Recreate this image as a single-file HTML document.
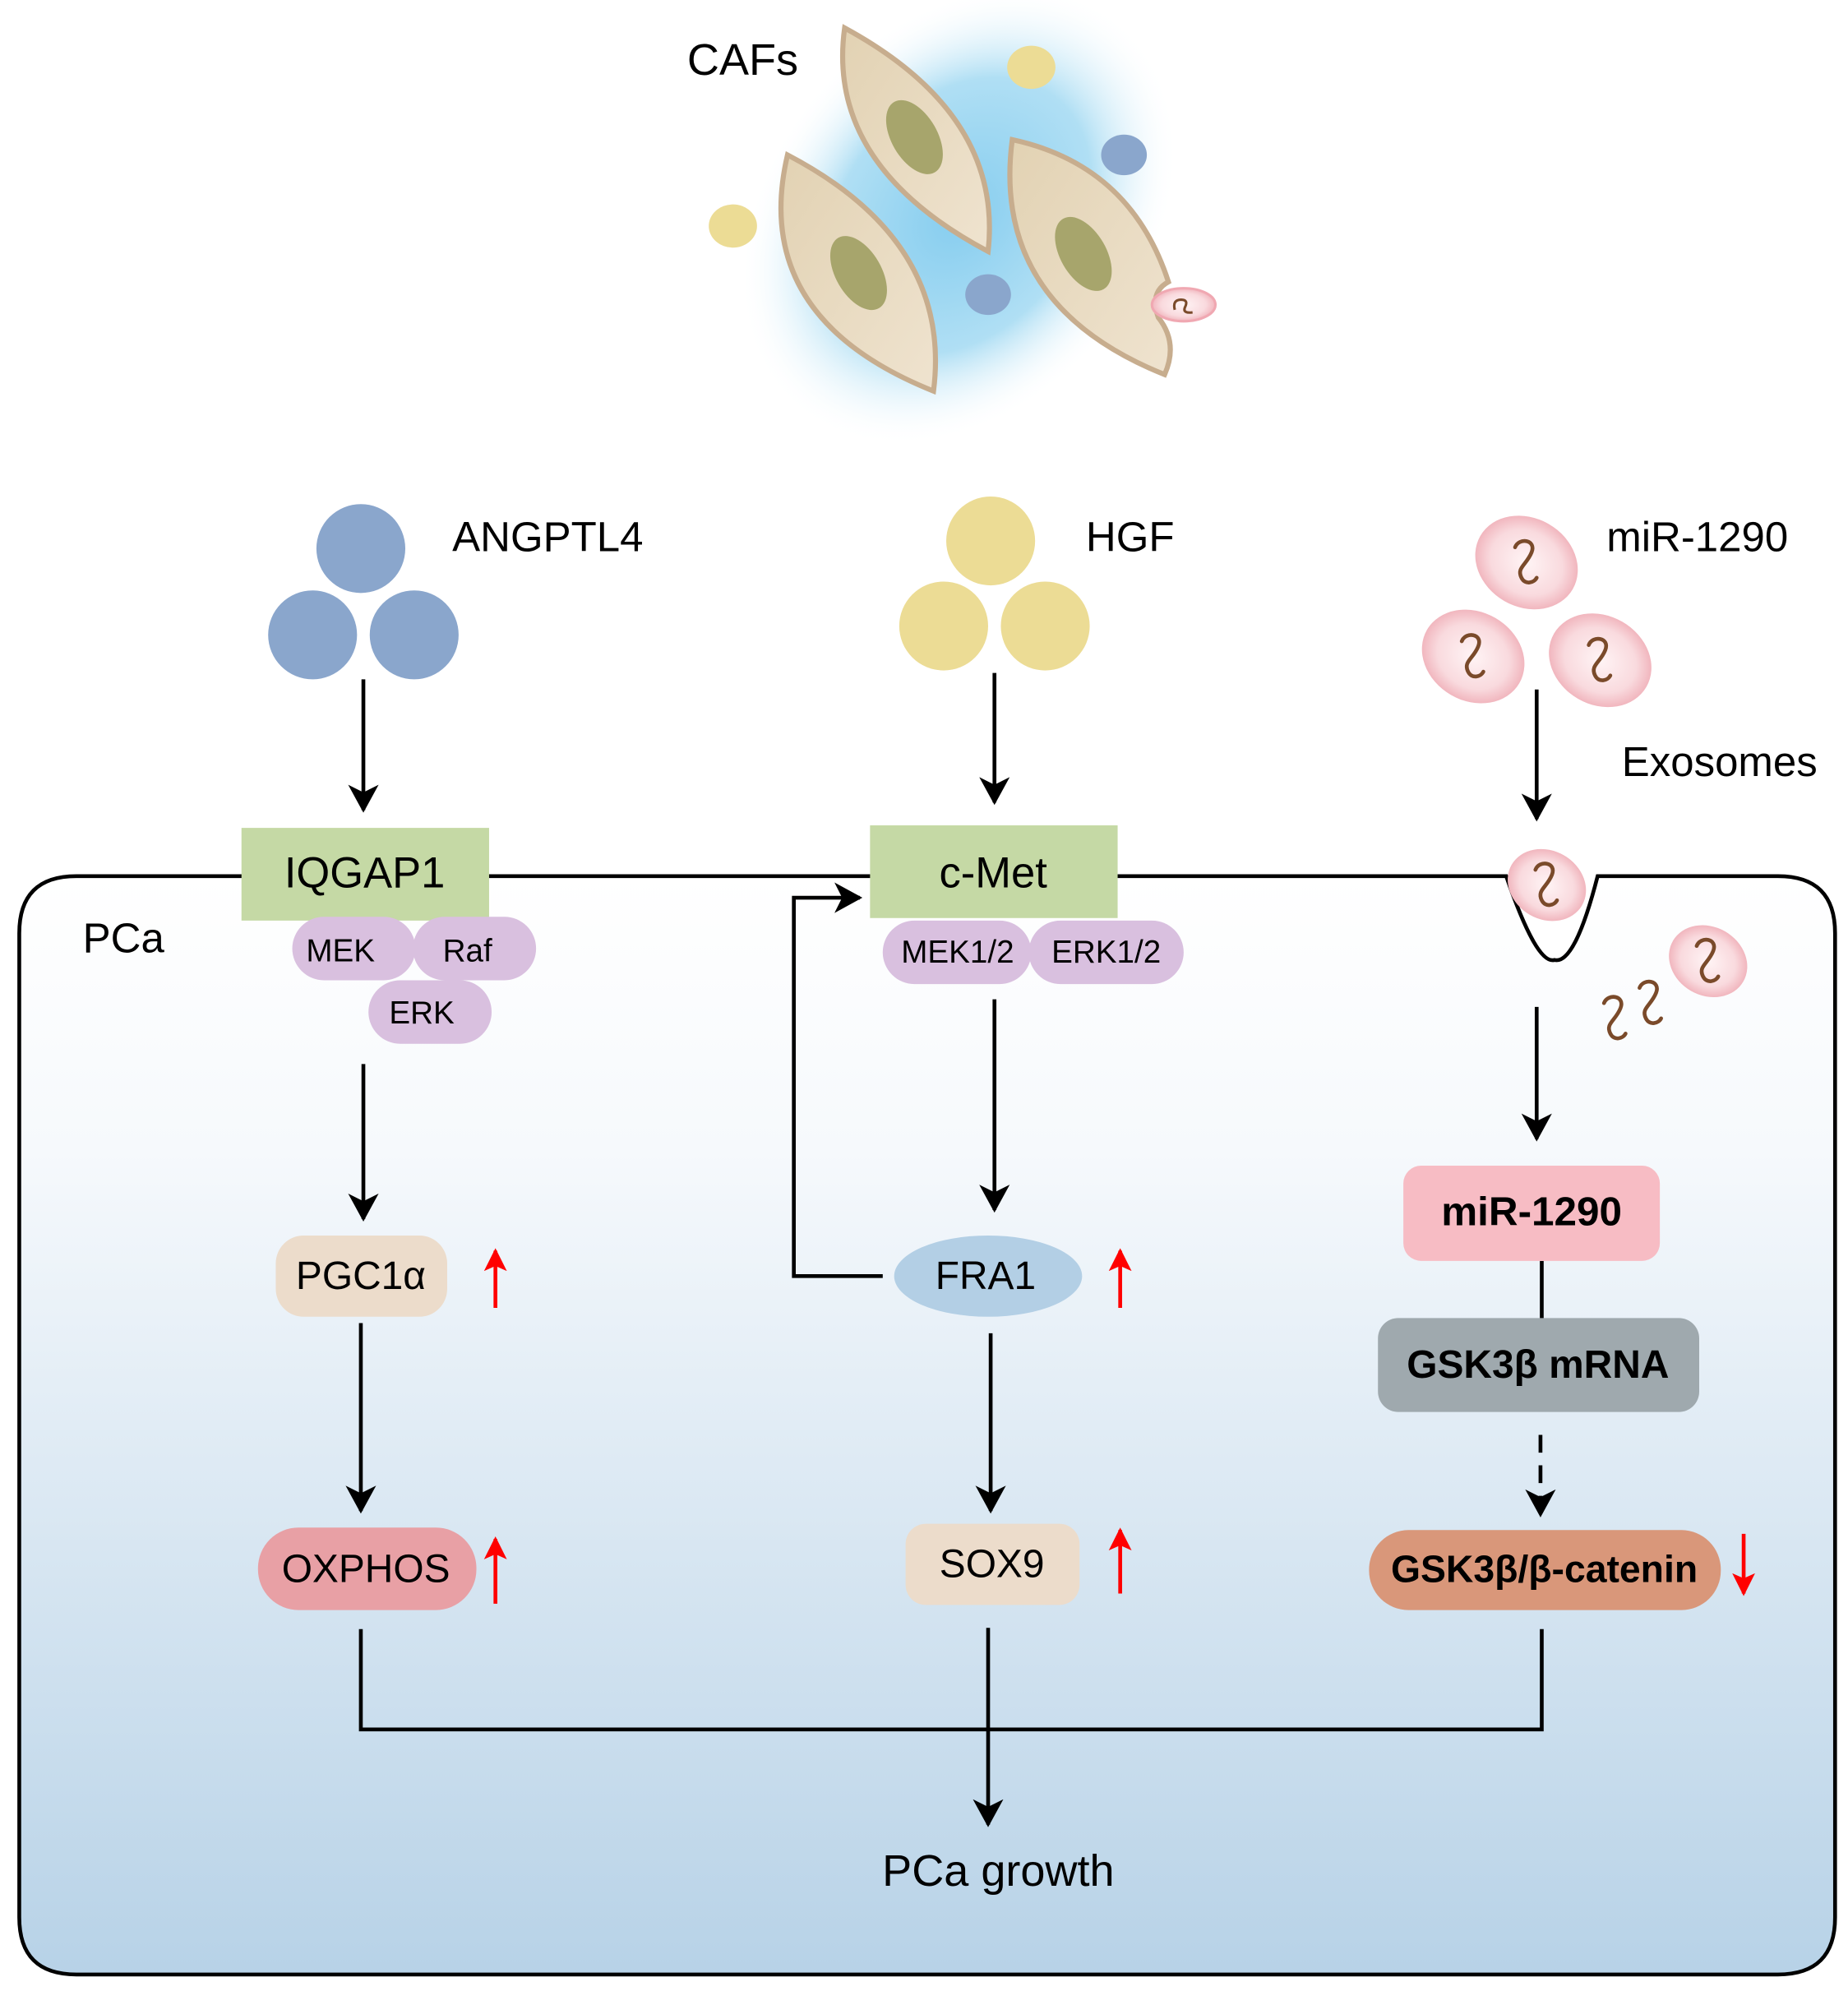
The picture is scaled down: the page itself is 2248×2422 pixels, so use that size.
<!DOCTYPE html>
<html><head><meta charset="utf-8"><style>
html,body{margin:0;padding:0;background:#fff}
svg{display:block}
text{font-family:"Liberation Sans",sans-serif}
</style></head><body>
<svg width="2248" height="2422" viewBox="0 0 1455 1568" xmlns="http://www.w3.org/2000/svg">
<defs>
<linearGradient id="cell" x1="0" y1="0" x2="0" y2="1">
<stop offset="0" stop-color="#ffffff"/><stop offset="0.25" stop-color="#f6f9fc"/><stop offset="1" stop-color="#b7d2e7"/></linearGradient>
<radialGradient id="glow" cx="0.5" cy="0.5" r="0.5">
<stop offset="0" stop-color="#86cdef"/><stop offset="0.6" stop-color="#b0dff4"/><stop offset="1" stop-color="#ffffff" stop-opacity="0"/></radialGradient>
<radialGradient id="ves" cx="0.5" cy="0.5" r="0.5">
<stop offset="0" stop-color="#fff4f5"/><stop offset="0.7" stop-color="#f9dade"/><stop offset="1" stop-color="#f1b6be"/></radialGradient>
<linearGradient id="fib" x1="0" y1="0" x2="1" y2="1"><stop offset="0" stop-color="#e2d2b3"/><stop offset="1" stop-color="#efe3cf"/></linearGradient>
<marker id="ahb" markerWidth="24" markerHeight="26" refX="20" refY="13" orient="auto" markerUnits="userSpaceOnUse">
<path d="M0,1 L22,13 L0,25 L6,13 Z" fill="#000"/></marker>
<marker id="ahr" markerWidth="18" markerHeight="20" refX="16" refY="10" orient="auto" markerUnits="userSpaceOnUse">
<path d="M0,1 L18,10 L0,19 L4,10 Z" fill="#f00"/></marker>
<g id="sq"><path d="M-9,-12 C-6,-20 8,-18 4,-8 C0,2 -8,4 -4,12 C-1,18 6,16 8,12" fill="none" stroke="#7a4a2a" stroke-width="3" stroke-linecap="round"/></g>
</defs>

<!-- CAFs -->
<ellipse cx="755" cy="170" rx="200" ry="150" fill="url(#glow)" transform="rotate(-50 755 170)"/>
<path d="M665,22 Q650,130 778,198 Q790,90 665,22 Z" fill="url(#fib)" stroke="#c7ad8e" stroke-width="4"/>
<ellipse cx="720" cy="108" rx="18" ry="32" fill="#a7a56c" transform="rotate(-30 720 108)"/>
<path d="M620,122 Q590,250 735,308 Q750,190 620,122 Z" fill="url(#fib)" stroke="#c7ad8e" stroke-width="4"/>
<ellipse cx="676" cy="215" rx="18" ry="32" fill="#a7a56c" transform="rotate(-30 676 215)"/>
<path d="M797,110 Q780,240 917,295 Q928,270 912,250 Q905,230 920,222 Q890,130 797,110 Z" fill="url(#fib)" stroke="#c7ad8e" stroke-width="4"/>
<ellipse cx="853" cy="200" rx="18" ry="32" fill="#a7a56c" transform="rotate(-30 853 200)"/>
<ellipse cx="812" cy="53" rx="19" ry="17" fill="#ecdc95"/>
<ellipse cx="577" cy="178" rx="19" ry="17" fill="#ecdc95"/>
<ellipse cx="885" cy="122" rx="18" ry="16" fill="#8aa6cc"/>
<ellipse cx="778" cy="232" rx="18" ry="16" fill="#8aa6cc"/>
<ellipse cx="932" cy="240" rx="25" ry="13" fill="url(#ves)" stroke="#f0a8b2" stroke-width="2"/>
<path d="M925,244 q-2,-8 5,-8 q6,0 3,6 q-2,5 6,4" fill="none" stroke="#7a4a2a" stroke-width="2"/>
<text x="541" y="59" font-size="35">CAFs</text>

<!-- cell -->
<path d="M60,690 L1186,690 Q1210,760 1224,756 Q1240,760 1258,690 L1400,690 Q1445,690 1445,735 L1445,1510 Q1445,1555 1400,1555 L60,1555 Q15,1555 15,1510 L15,735 Q15,690 60,690 Z" fill="url(#cell)" stroke="#000" stroke-width="3"/>
<text x="65" y="750" font-size="33">PCa</text>

<!-- ANGPTL4 -->
<circle cx="284" cy="432" r="35" fill="#8aa6cc"/><circle cx="246" cy="500" r="35" fill="#8aa6cc"/><circle cx="326" cy="500" r="35" fill="#8aa6cc"/>
<text x="356" y="434" font-size="33">ANGPTL4</text>
<!-- HGF -->
<circle cx="780" cy="426" r="35" fill="#ecdc95"/><circle cx="743" cy="493" r="35" fill="#ecdc95"/><circle cx="823" cy="493" r="35" fill="#ecdc95"/>
<text x="855" y="434" font-size="33">HGF</text>
<!-- miR exosomes -->
<ellipse cx="1202" cy="443" rx="42" ry="35" fill="url(#ves)" transform="rotate(30 1202 443)"/><use href="#sq" x="1202" y="443"/>
<ellipse cx="1160" cy="517" rx="42" ry="35" fill="url(#ves)" transform="rotate(30 1160 517)"/><use href="#sq" x="1160" y="517"/>
<ellipse cx="1260" cy="520" rx="42" ry="35" fill="url(#ves)" transform="rotate(30 1260 520)"/><use href="#sq" x="1260" y="520"/>
<text x="1265" y="434" font-size="33">miR-1290</text>
<text x="1277" y="611" font-size="33">Exosomes</text>
<ellipse cx="1218" cy="697" rx="32" ry="27" fill="url(#ves)" transform="rotate(30 1218 697)"/><use href="#sq" x="1218" y="697"/>
<ellipse cx="1345" cy="757" rx="32" ry="27" fill="url(#ves)" transform="rotate(30 1345 757)"/><use href="#sq" x="1345" y="757"/>
<use href="#sq" x="1272" y="802"/><use href="#sq" x="1300" y="790"/>

<!-- arrows -->
<g stroke="#000" stroke-width="3" fill="none">
<line x1="286" y1="535" x2="286" y2="638" marker-end="url(#ahb)"/>
<line x1="783" y1="530" x2="783" y2="632" marker-end="url(#ahb)"/>
<line x1="1210" y1="543" x2="1210" y2="645" marker-end="url(#ahb)"/>
<line x1="286" y1="838" x2="286" y2="960" marker-end="url(#ahb)"/>
<line x1="783" y1="787" x2="783" y2="953" marker-end="url(#ahb)"/>
<line x1="1210" y1="793" x2="1210" y2="897" marker-end="url(#ahb)"/>
<line x1="284" y1="1042" x2="284" y2="1190" marker-end="url(#ahb)"/>
<line x1="780" y1="1050" x2="780" y2="1190" marker-end="url(#ahb)"/>
<line x1="1213" y1="1130" x2="1213" y2="1193" stroke-dasharray="14,10" marker-end="url(#ahb)"/>
<line x1="778" y1="1282" x2="778" y2="1437" marker-end="url(#ahb)"/>
<line x1="1214" y1="993" x2="1214" y2="1040"/>
<polyline points="695,1005 625,1005 625,707 677,707" marker-end="url(#ahb)"/>
<polyline points="284,1283 284,1362 1214,1362 1214,1283"/>
</g>
<g stroke="#f00" stroke-width="3">
<line x1="390" y1="1030" x2="390" y2="985" marker-end="url(#ahr)"/>
<line x1="390" y1="1263" x2="390" y2="1212" marker-end="url(#ahr)"/>
<line x1="882" y1="1030" x2="882" y2="985" marker-end="url(#ahr)"/>
<line x1="882" y1="1255" x2="882" y2="1205" marker-end="url(#ahr)"/>
<line x1="1373" y1="1208" x2="1373" y2="1255" marker-end="url(#ahr)"/>
</g>

<!-- receptors -->
<rect x="190" y="652" width="195" height="73" fill="#c5d9a5"/>
<text x="287" y="699" font-size="34" text-anchor="middle">IQGAP1</text>
<rect x="685" y="650" width="195" height="73" fill="#c5d9a5"/>
<text x="782" y="699" font-size="34" text-anchor="middle">c-Met</text>
<rect x="230" y="722" width="97" height="50" rx="25" fill="#d9c0df"/>
<rect x="325" y="722" width="97" height="50" rx="25" fill="#d9c0df"/>
<rect x="290" y="772" width="97" height="50" rx="25" fill="#d9c0df"/>
<text x="268" y="757" font-size="25" text-anchor="middle">MEK</text>
<text x="368" y="757" font-size="25" text-anchor="middle">Raf</text>
<text x="332" y="806" font-size="25" text-anchor="middle">ERK</text>
<rect x="695" y="725" width="117" height="50" rx="25" fill="#d9c0df"/>
<rect x="810" y="725" width="122" height="50" rx="25" fill="#d9c0df"/>
<text x="754" y="758" font-size="25" text-anchor="middle">MEK1/2</text>
<text x="871" y="758" font-size="25" text-anchor="middle">ERK1/2</text>

<!-- nodes -->
<rect x="217" y="973" width="135" height="64" rx="22" fill="#ecdccb"/>
<text x="284" y="1015" font-size="31" text-anchor="middle">PGC1α</text>
<ellipse cx="778" cy="1005" rx="74" ry="32" fill="#b3cfe5"/>
<text x="776" y="1015" font-size="31" text-anchor="middle">FRA1</text>
<rect x="203" y="1203" width="172" height="65" rx="32" fill="#e8a0a5"/>
<text x="288" y="1246" font-size="31" text-anchor="middle">OXPHOS</text>
<rect x="713" y="1200" width="137" height="64" rx="16" fill="#ecdccb"/>
<text x="781" y="1242" font-size="31" text-anchor="middle">SOX9</text>
<rect x="1105" y="918" width="202" height="75" rx="14" fill="#f7bcc4"/>
<text x="1206" y="965" font-size="32" font-weight="bold" text-anchor="middle">miR-1290</text>
<rect x="1085" y="1038" width="253" height="74" rx="16" fill="#9fa9ae"/>
<text x="1211" y="1085" font-size="31" font-weight="bold" text-anchor="middle">GSK3β mRNA</text>
<rect x="1078" y="1205" width="277" height="63" rx="31" fill="#d9977a"/>
<text x="1216" y="1246" font-size="30" font-weight="bold" text-anchor="middle">GSK3β/β-catenin</text>

<text x="786" y="1485" font-size="35" text-anchor="middle">PCa growth</text>
</svg>
</body></html>
